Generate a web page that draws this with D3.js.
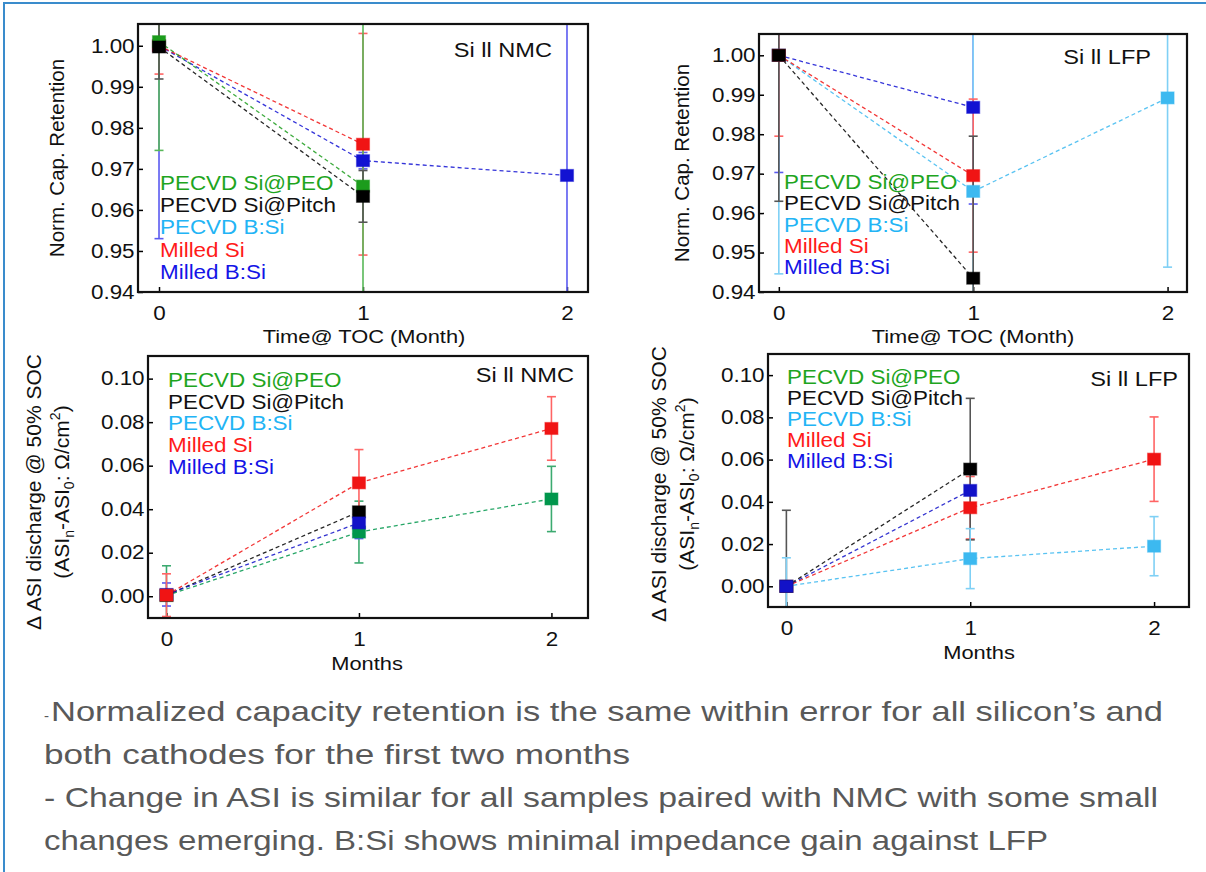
<!DOCTYPE html>
<html><head><meta charset="utf-8">
<script src="https://cdn.jsdelivr.net/npm/d3@7"></script>
<style>
body{margin:0;background:#fff;}
svg{display:block;}
text{font-family:"Liberation Sans",Arial,Helvetica,sans-serif;}
</style>
</head><body>
<svg id="c" width="1206" height="872"></svg>
<script>
// ---------------- DATA ----------------
const months = [0, 1, 2];
const monthTicks = [0, 1, 2];
const seriesNames = ["PECVD Si@PEO", "PECVD Si@Pitch", "PECVD B:Si", "Milled Si", "Milled B:Si"];
const retTicks = [0.94, 0.95, 0.96, 0.97, 0.98, 0.99, 1.00];
const asiTicks = [0.00, 0.02, 0.04, 0.06, 0.08, 0.10];

// Normalized capacity retention, Si || NMC
const retNMC_PEO      = [1.001, 0.9658, null];  const retNMC_PEO_err      = [0.0265, 0.045, null];
const retNMC_Pitch    = [0.9997, 0.9633, null]; const retNMC_Pitch_err    = [0.0078, 0.0063, null];
const retNMC_BSi      = [null, null, null];     const retNMC_BSi_err      = [null, null, null];
const retNMC_Milled   = [1.000, 0.976, null];   const retNMC_Milled_err   = [0.0069, 0.027, null];
const retNMC_MilledB  = [1.000, 0.972, 0.9684]; const retNMC_MilledB_err  = [0.047, 0.002, 0.045];

// Normalized capacity retention, Si || LFP
const retLFP_PEO      = [null, null, null];     const retLFP_PEO_err      = [null, null, null];
const retLFP_Pitch    = [1.000, 0.9435, null];  const retLFP_Pitch_err    = [0.037, 0.036, null];
const retLFP_BSi      = [1.000, 0.9655, 0.9892];const retLFP_BSi_err      = [0.0554, 0.045, 0.0429];
const retLFP_Milled   = [1.000, 0.9695, null];  const retLFP_Milled_err   = [0.0205, 0.0194, null];
const retLFP_MilledB  = [1.000, 0.9868, null];  const retLFP_MilledB_err  = [0.0297, 0.0245, null];

// Delta ASI discharge @ 50% SOC, Si || NMC
const asiNMC_PEO      = [0.0003, 0.0295, 0.0447]; const asiNMC_PEO_err     = [0.0137, 0.0142, 0.015];
const asiNMC_Pitch    = [0.0005, 0.0388, null];   const asiNMC_Pitch_err   = [0.002, 0.002, null];
const asiNMC_BSi      = [null, null, null];       const asiNMC_BSi_err     = [null, null, null];
const asiNMC_Milled   = [0.0005, 0.0521, 0.0771]; const asiNMC_Milled_err  = [0.0098, 0.0153, 0.0146];
const asiNMC_MilledB  = [0.0008, 0.0337, null];   const asiNMC_MilledB_err = [0.0053, 0.0072, null];

// Delta ASI discharge @ 50% SOC, Si || LFP
const asiLFP_PEO      = [null, null, null];       const asiLFP_PEO_err     = [null, null, null];
const asiLFP_Pitch    = [0.000, 0.0555, null];    const asiLFP_Pitch_err   = [0.036, 0.0335, null];
const asiLFP_BSi      = [0.000, 0.0131, 0.019];   const asiLFP_BSi_err     = [0.0135, 0.0142, 0.014];
const asiLFP_Milled   = [0.000, 0.0372, 0.0602];  const asiLFP_Milled_err  = [0.002, 0.0148, 0.020];
const asiLFP_MilledB  = [0.000, 0.0454, null];    const asiLFP_MilledB_err = [0.002, 0.002, null];

const noteLines = [
  "Normalized capacity retention is the same within error for all silicon’s and",
  "both cathodes for the first two months",
  "- Change in ASI is similar for all samples paired with NMC with some small",
  "changes emerging. B:Si shows minimal impedance gain against LFP"
];

// ---------------- STYLE ----------------
const legendColors = ["#1ea51e", "#111111", "#22b4f5", "#ff1a1a", "#1414e6"];
const topMarkColors = ["#1c9c1c", "#000000", "#3cb9f0", "#f01414", "#1212d2"];
const botMarkColors = ["#00964c", "#000000", "#3cb9f0", "#f01414", "#1212c8"];
const topErrColors = ["#58b858", "#555555", "#7fd0f5", "#ff6464", "#5a5af0"];
const botErrColors = ["#3caa70", "#555555", "#7fd0f5", "#ff6464", "#5a5af0"];
const STX = 1.15; // horizontal text stretch of the original picture

const svg = d3.select("#c");

// slide border
svg.append("rect").attr("x", 4).attr("y", 3).attr("width", 1400).attr("height", 1000)
  .attr("fill", "none").attr("stroke", "#3a8ccc").attr("stroke-width", 2);

function stretchText(sel, x, y, anchor, size, color, txt) {
  return sel.append("text")
    .attr("transform", `translate(${x},${y}) scale(${STX},1)`)
    .attr("text-anchor", anchor).attr("font-size", size).attr("fill", color).text(txt);
}

let clipId = 0;
function panel(cfg) {
  const g = svg.append("g");
  const x = d3.scaleLinear().domain(cfg.xd).range([cfg.x0, cfg.x1]);
  const y = d3.scaleLinear().domain(cfg.yd).range([cfg.y1, cfg.y0]);
  const id = "clip" + (clipId++);
  g.append("clipPath").attr("id", id).append("rect")
    .attr("x", cfg.x0).attr("y", cfg.y0).attr("width", cfg.x1 - cfg.x0).attr("height", cfg.y1 - cfg.y0);

  // axes (inward ticks)
  const ya = g.append("g").attr("transform", `translate(${cfg.x0},0)`)
    .call(d3.axisLeft(y).tickValues(cfg.yTicks).tickFormat(d3.format(".2f")).tickSizeInner(-5).tickSizeOuter(0).tickPadding(3));
  const xa = g.append("g").attr("transform", `translate(0,${cfg.y1})`)
    .call(d3.axisBottom(x).tickValues(monthTicks).tickFormat(d3.format("d")).tickSizeInner(-5).tickSizeOuter(0).tickPadding(14));
  [ya, xa].forEach(a => {
    a.select(".domain").remove();
    a.selectAll("line").attr("stroke", "#000").attr("stroke-width", 1.5);
    a.selectAll("text").attr("font-size", 19.5).attr("fill", "#111")
      .attr("font-family", '"Liberation Sans",Arial,sans-serif');
  });
  ya.selectAll("text").attr("transform", `scale(${STX},1)`);
  xa.selectAll("text").attr("transform", `scale(${STX},1)`);

  const data = cfg.series.map((s, i) => ({i, vals: s.v, errs: s.e}));
  const plot = g.append("g").attr("clip-path", `url(#${id})`);

  // error bars
  cfg.errOrder.forEach(i => {
    const s = data[i];
    months.forEach((m, k) => {
      const v = s.vals[k], e = s.errs[k];
      if (v == null || e == null) return;
      const eg = plot.append("g").attr("stroke", cfg.errs[i]).attr("stroke-width", 1.6);
      eg.append("line").attr("x1", x(m)).attr("x2", x(m)).attr("y1", y(v - e)).attr("y2", y(v + e));
      [v - e, v + e].forEach(b => eg.append("line").attr("x1", x(m) - 4.5).attr("x2", x(m) + 4.5).attr("y1", y(b)).attr("y2", y(b)));
    });
  });
  // dashed connecting lines
  const line = d3.line().defined(d => d.v != null).x(d => x(d.m)).y(d => y(d.v));
  cfg.errOrder.forEach(i => {
    const s = data[i];
    const pts = months.map((m, k) => ({m, v: s.vals[k]}));
    plot.append("path").attr("d", line(pts)).attr("fill", "none")
      .attr("stroke", cfg.marks[i]).attr("stroke-opacity", 0.85).attr("stroke-width", 1.3).attr("stroke-dasharray", "4,3");
  });
  // markers
  cfg.markOrder.forEach(i => {
    const s = data[i];
    months.forEach((m, k) => {
      const v = s.vals[k];
      if (v == null) return;
      plot.append("rect").attr("x", x(m) - 6.5).attr("y", y(v) - 6).attr("width", 13).attr("height", 12)
        .attr("fill", cfg.marks[i]).attr("stroke", cfg.marks[i]).attr("stroke-opacity", 0.45).attr("stroke-width", 1.2);
    });
  });

  // frame
  g.append("rect").attr("x", cfg.x0).attr("y", cfg.y0).attr("width", cfg.x1 - cfg.x0).attr("height", cfg.y1 - cfg.y0)
    .attr("fill", "none").attr("stroke", "#111").attr("stroke-width", 2.2);

  // title
  stretchText(g, cfg.titleX, cfg.titleY, "end", 20.5, "#111", cfg.title);
  // legend
  seriesNames.forEach((n, i) => {
    stretchText(g, cfg.legX, cfg.legY + i * cfg.legDy, "start", 19.5, legendColors[i], n);
  });
  // x label
  stretchText(g, cfg.xlabX, cfg.xlabY, "middle", 19, "#111", cfg.xlab);
  // y label
  if (cfg.ylab2) {
    g.append("text").attr("transform", `translate(${cfg.ylabX},${cfg.ylabY}) rotate(-90)`)
      .attr("text-anchor", "middle").attr("font-size", 21).attr("fill", "#111").text(cfg.ylab);
    const t2 = g.append("text").attr("transform", `translate(${cfg.ylabX + cfg.ylab2dx},${cfg.ylabY}) rotate(-90)`)
      .attr("text-anchor", "middle").attr("font-size", 21).attr("fill", "#111");
    t2.append("tspan").text("(ASI");
    t2.append("tspan").attr("font-size", 14).attr("dy", 5).text("n");
    t2.append("tspan").attr("dy", -5).text("-ASI");
    t2.append("tspan").attr("font-size", 14).attr("dy", 5).text("0");
    t2.append("tspan").attr("dy", -5).text(": Ω/cm");
    t2.append("tspan").attr("font-size", 14).attr("dy", -9).text("2");
    t2.append("tspan").attr("dy", 9).text(")");
  } else {
    g.append("text").attr("transform", `translate(${cfg.ylabX},${cfg.ylabY}) rotate(-90)`)
      .attr("text-anchor", "middle").attr("font-size", 20.5).attr("fill", "#111").text(cfg.ylab);
  }
}

panel({
  x0: 138, x1: 588, y0: 24, y1: 292, xd: [-0.103, 2.103], yd: [0.94, 1.0053], yTicks: retTicks,
  series: [
    {v: retNMC_PEO, e: retNMC_PEO_err}, {v: retNMC_Pitch, e: retNMC_Pitch_err}, {v: retNMC_BSi, e: retNMC_BSi_err},
    {v: retNMC_Milled, e: retNMC_Milled_err}, {v: retNMC_MilledB, e: retNMC_MilledB_err}],
  marks: topMarkColors, errs: topErrColors, errOrder: [4, 3, 0, 1], markOrder: [4, 3, 0, 1],
  title: "Si ll NMC", titleX: 552, titleY: 57,
  legX: 160, legY: 190, legDy: 22.2,
  xlab: "Time@ TOC (Month)", xlabX: 364, xlabY: 343,
  ylab: "Norm. Cap. Retention", ylabX: 64, ylabY: 158
});
panel({
  x0: 759, x1: 1187, y0: 34, y1: 292, xd: [-0.102, 2.1], yd: [0.94, 1.0054], yTicks: retTicks,
  series: [
    {v: retLFP_PEO, e: retLFP_PEO_err}, {v: retLFP_Pitch, e: retLFP_Pitch_err}, {v: retLFP_BSi, e: retLFP_BSi_err},
    {v: retLFP_Milled, e: retLFP_Milled_err}, {v: retLFP_MilledB, e: retLFP_MilledB_err}],
  marks: topMarkColors, errs: topErrColors, errOrder: [4, 2, 3, 1], markOrder: [4, 2, 3, 1],
  title: "Si ll LFP", titleX: 1151, titleY: 64,
  legX: 784, legY: 189, legDy: 21.3,
  xlab: "Time@ TOC (Month)", xlabX: 973, xlabY: 343,
  ylab: "Norm. Cap. Retention", ylabX: 689, ylabY: 163
});
panel({
  x0: 148, x1: 588, y0: 356, y1: 618, xd: [-0.096, 2.19], yd: [-0.01, 0.1104], yTicks: asiTicks,
  series: [
    {v: asiNMC_PEO, e: asiNMC_PEO_err}, {v: asiNMC_Pitch, e: asiNMC_Pitch_err}, {v: asiNMC_BSi, e: asiNMC_BSi_err},
    {v: asiNMC_Milled, e: asiNMC_Milled_err}, {v: asiNMC_MilledB, e: asiNMC_MilledB_err}],
  marks: botMarkColors, errs: botErrColors, errOrder: [0, 1, 4, 3], markOrder: [0, 1, 4, 3],
  title: "Si ll NMC", titleX: 574, titleY: 382,
  legX: 168, legY: 387, legDy: 21.7,
  xlab: "Months", xlabX: 367, xlabY: 670,
  ylab: "Δ ASI discharge @ 50% SOC", ylabX: 41, ylab2dx: 28, ylabY: 492, ylab2: true
});
panel({
  x0: 768, x1: 1189, y0: 354, y1: 607, xd: [-0.1, 2.19], yd: [-0.0098, 0.11], yTicks: asiTicks,
  series: [
    {v: asiLFP_PEO, e: asiLFP_PEO_err}, {v: asiLFP_Pitch, e: asiLFP_Pitch_err}, {v: asiLFP_BSi, e: asiLFP_BSi_err},
    {v: asiLFP_Milled, e: asiLFP_Milled_err}, {v: asiLFP_MilledB, e: asiLFP_MilledB_err}],
  marks: botMarkColors, errs: botErrColors, errOrder: [4, 3, 1, 2], markOrder: [2, 3, 1, 4],
  title: "Si ll LFP", titleX: 1178, titleY: 386,
  legX: 787, legY: 384, legDy: 21,
  xlab: "Months", xlabX: 979, xlabY: 659,
  ylab: "Δ ASI discharge @ 50% SOC", ylabX: 666, ylab2dx: 28, ylabY: 484, ylab2: true
});

// ---------------- NOTES ----------------
const noteFont = '"Open Sans","Liberation Sans",sans-serif';
const nb = [721, 764, 807, 850];
const nEnd = [1163, 630, 1158, 1048];
const nx = [51, 44, 44, 44];
// small leading dash of the first line
svg.append("text").attr("x", 44).attr("y", nb[0]).attr("font-size", 15).attr("fill", "#595959")
  .attr("font-family", noteFont).text("-");
noteLines.forEach((t, i) => {
  svg.append("text").attr("x", nx[i]).attr("y", nb[i]).attr("font-size", 27.5).attr("fill", "#595959")
    .attr("font-family", noteFont).attr("textLength", nEnd[i] - nx[i]).attr("lengthAdjust", "spacingAndGlyphs").text(t);
});
</script>
</body></html>
